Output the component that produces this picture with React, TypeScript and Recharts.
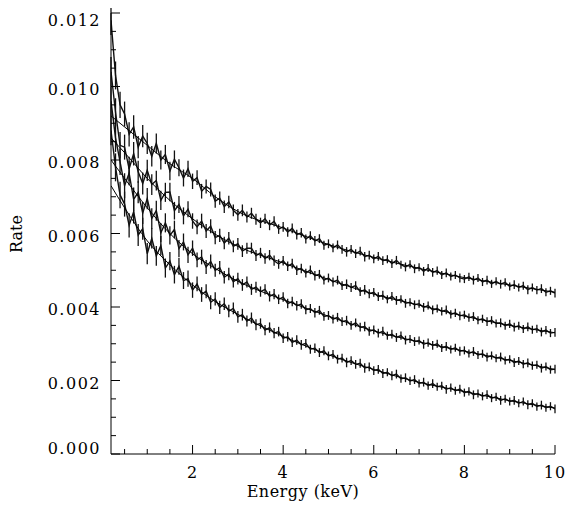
import { ComposedChart, Line, XAxis, YAxis, ErrorBar, Label } from "recharts";

const FONT = "'DejaVu Serif', serif";

// energy bins (keV)
const energy = [
  0.2, 0.3, 0.4, 0.5, 0.6, 0.7, 0.8, 0.9, 1.0, 1.1,
  1.2, 1.3, 1.4, 1.5, 1.6, 1.7, 1.8, 1.9, 2.0, 2.1,
  2.2, 2.3, 2.4, 2.5, 2.6, 2.7, 2.8, 2.9, 3.0, 3.1,
  3.2, 3.3, 3.4, 3.5, 3.6, 3.7, 3.8, 3.9, 4.0, 4.1,
  4.2, 4.3, 4.4, 4.5, 4.6, 4.7, 4.8, 4.9, 5.0, 5.1,
  5.2, 5.3, 5.4, 5.5, 5.6, 5.7, 5.8, 5.9, 6.0, 6.1,
  6.2, 6.3, 6.4, 6.5, 6.6, 6.7, 6.8, 6.9, 7.0, 7.1,
  7.2, 7.3, 7.4, 7.5, 7.6, 7.7, 7.8, 7.9, 8.0, 8.1,
  8.2, 8.3, 8.4, 8.5, 8.6, 8.7, 8.8, 8.9, 9.0, 9.1,
  9.2, 9.3, 9.4, 9.5, 9.6, 9.7, 9.8, 9.9, 10.0,
];

// measured rates, four spectra from top to bottom
const rateA = [
  0.0118, 0.0103, 0.0095, 0.00925, 0.0087, 0.0089, 0.00835, 0.00865, 0.00845, 0.0081,
  0.00845, 0.008, 0.00815, 0.0077, 0.00802, 0.00779, 0.00751, 0.00776, 0.00742, 0.00752,
  0.00715, 0.00728, 0.0072, 0.00688, 0.00696, 0.00673, 0.00686, 0.00663, 0.00651, 0.00663,
  0.00645, 0.00655, 0.00639, 0.00629, 0.0064, 0.00623, 0.00633, 0.00612, 0.00618, 0.00604,
  0.00614, 0.00597, 0.00602, 0.00585, 0.00594, 0.0058, 0.00586, 0.00568, 0.00572, 0.00561,
  0.00569, 0.00557, 0.0055, 0.00557, 0.00545, 0.00552, 0.00537, 0.00541, 0.00531, 0.00538,
  0.00526, 0.0053, 0.00518, 0.00527, 0.00515, 0.00509, 0.00516, 0.00504, 0.00508, 0.00497,
  0.00506, 0.00494, 0.00499, 0.00487, 0.00493, 0.00483, 0.00487, 0.00479, 0.00476, 0.00482,
  0.00473, 0.00479, 0.00468, 0.00473, 0.00463, 0.0047, 0.00462, 0.00467, 0.00456, 0.00461,
  0.00453, 0.00458, 0.00447, 0.00453, 0.00446, 0.0045, 0.0044, 0.00444, 0.00438,
];
const rateB = [
  0.0104, 0.0093, 0.0084, 0.00835, 0.00776, 0.00817, 0.00768, 0.00736, 0.00772, 0.00733,
  0.00744, 0.0069, 0.00712, 0.00713, 0.00662, 0.00679, 0.00648, 0.00666, 0.00634, 0.00618,
  0.00634, 0.00607, 0.0062, 0.00589, 0.00595, 0.00574, 0.00587, 0.00565, 0.00572, 0.00552,
  0.0056, 0.0056, 0.0054, 0.00547, 0.00532, 0.00541, 0.00526, 0.00517, 0.00526, 0.00511,
  0.00518, 0.005, 0.00505, 0.00492, 0.00501, 0.00485, 0.00489, 0.00473, 0.00479, 0.00468,
  0.00473, 0.00458, 0.00462, 0.00453, 0.00458, 0.00442, 0.00447, 0.00436, 0.0044, 0.00428,
  0.00432, 0.00421, 0.00429, 0.00418, 0.00421, 0.0041, 0.00413, 0.00406, 0.00409, 0.00399,
  0.00404, 0.00392, 0.00396, 0.00388, 0.00392, 0.0038, 0.00384, 0.00376, 0.00379, 0.00371,
  0.00374, 0.00364, 0.00368, 0.0036, 0.00364, 0.00355, 0.00357, 0.00349, 0.00354, 0.00345,
  0.00349, 0.0034, 0.00346, 0.00338, 0.00341, 0.00332, 0.00337, 0.00329, 0.00331,
];
const rateC = [
  0.0096, 0.0086, 0.00795, 0.0073, 0.00764, 0.00693, 0.00712, 0.00656, 0.00695, 0.00641,
  0.00662, 0.00602, 0.00629, 0.00595, 0.00611, 0.00559, 0.00577, 0.00542, 0.0056, 0.00528,
  0.00536, 0.00509, 0.00524, 0.005, 0.00507, 0.00481, 0.0049, 0.00469, 0.00477, 0.0046,
  0.00468, 0.00448, 0.00454, 0.00442, 0.00448, 0.00429, 0.00435, 0.00421, 0.00427, 0.004095,
  0.00415, 0.004035, 0.00408, 0.003925, 0.00396, 0.003845, 0.00391, 0.003745, 0.00377, 0.00367,
  0.00372, 0.0036, 0.00363, 0.0035, 0.00357, 0.00345, 0.00347, 0.00334, 0.00338, 0.00329,
  0.00334, 0.00322, 0.00326, 0.00317, 0.00322, 0.0031, 0.00313, 0.00306, 0.00309, 0.002985,
  0.00303, 0.002955, 0.003, 0.002885, 0.00293, 0.002845, 0.00289, 0.002795, 0.00282, 0.002735,
  0.00279, 0.002695, 0.00273, 0.002635, 0.00268, 0.002605, 0.00264, 0.002545, 0.00258, 0.002485,
  0.00253, 0.002445, 0.00248, 0.002405, 0.00243, 0.002335, 0.00238, 0.002295, 0.00231,
];
const rateD = [
  0.0088, 0.0078, 0.00705, 0.0068, 0.00622, 0.00659, 0.00596, 0.00613, 0.00545, 0.00587,
  0.00539, 0.00567, 0.00506, 0.00525, 0.00488, 0.00511, 0.00472, 0.00477, 0.00446, 0.00463,
  0.00434, 0.00443, 0.00413, 0.00422, 0.00399, 0.00409, 0.00389, 0.00396, 0.00373, 0.00379,
  0.00362, 0.0037, 0.00352, 0.00355, 0.00337, 0.00344, 0.00329, 0.00333, 0.00315, 0.00319,
  0.00304, 0.0031, 0.00297, 0.00301, 0.00285, 0.00288, 0.00276, 0.00281, 0.00267, 0.00271,
  0.00258, 0.00261, 0.00249, 0.00254, 0.00244, 0.00247, 0.00234, 0.00237, 0.00227, 0.002305,
  0.00219, 0.002225, 0.00213, 0.002175, 0.00205, 0.002075, 0.00199, 0.002025, 0.00192, 0.001955,
  0.00186, 0.001915, 0.00183, 0.001855, 0.00176, 0.001805, 0.00172, 0.001765, 0.00167, 0.001705,
  0.00161, 0.001645, 0.00157, 0.001615, 0.00152, 0.001555, 0.00146, 0.001505, 0.00143, 0.00146,
  0.00138, 0.00143, 0.00134, 0.00138, 0.00129, 0.00133, 0.00126, 0.0013, 0.00123,
];
// 1-sigma errors per bin
const rateErr = [
  0.0004, 0.00038, 0.00036, 0.00034, 0.00033, 0.00032, 0.0003, 0.0003, 0.00029, 0.00028,
  0.00027, 0.00026, 0.00026, 0.00025, 0.00024, 0.00023, 0.00023, 0.00022, 0.00021, 0.0002,
  0.0002, 0.00019, 0.00019, 0.00018, 0.00018, 0.00017, 0.00017, 0.00016, 0.00016, 0.00016,
  0.00015, 0.00015, 0.00015, 0.00014, 0.00014, 0.00014, 0.00014, 0.00013, 0.00013, 0.00013,
  0.00013, 0.00013, 0.00013, 0.00012, 0.00012, 0.00013, 0.00012, 0.00012, 0.00012, 0.00012,
  0.00012, 0.00012, 0.00013, 0.00012, 0.00012, 0.00012, 0.00013, 0.00012, 0.00012, 0.00012,
  0.00012, 0.00011, 0.00012, 0.00012, 0.00011, 0.00012, 0.00011, 0.00012, 0.00011, 0.00012,
  0.00011, 0.00012, 0.00011, 0.00011, 0.00012, 0.00011, 0.00011, 0.00012, 0.00011, 0.00011,
  0.00012, 0.00011, 0.00011, 0.00012, 0.00011, 0.00011, 0.00012, 0.00011, 0.00011, 0.00012,
  0.00011, 0.00011, 0.00012, 0.00011, 0.00011, 0.00012, 0.00011, 0.00011, 0.00012,
];

// fitted model curves
const modelEnergy = [0.2, 0.5, 1, 1.5, 2, 2.5, 3, 4, 5, 6, 7, 8, 9, 10];
const modelA = [0.0092, 0.0089, 0.0084, 0.0079, 0.0075, 0.007, 0.0066, 0.00615, 0.0057, 0.00535, 0.00505, 0.0048, 0.0046, 0.0044];
const modelB = [0.0086, 0.0082, 0.0075, 0.0069, 0.0064, 0.00598, 0.00565, 0.0052, 0.00475, 0.00435, 0.00405, 0.00375, 0.0035, 0.0033];
const modelC = [0.008, 0.0075, 0.0067, 0.006, 0.00545, 0.00505, 0.0047, 0.0042, 0.00375, 0.00335, 0.00305, 0.0028, 0.00255, 0.0023];
const modelD = [0.0073, 0.0067, 0.0058, 0.00515, 0.0046, 0.00415, 0.0038, 0.0032, 0.0027, 0.0023, 0.00195, 0.0017, 0.00145, 0.00125];

const xTicks = [0.5, 1, 1.5, 2, 2.5, 3, 3.5, 4, 4.5, 5, 5.5, 6, 6.5, 7, 7.5, 8, 8.5, 9, 9.5, 10];
const yTicks = [
  0, 0.0005, 0.001, 0.0015, 0.002, 0.0025, 0.003, 0.0035, 0.004, 0.0045, 0.005, 0.0055,
  0.006, 0.0065, 0.007, 0.0075, 0.008, 0.0085, 0.009, 0.0095, 0.01, 0.0105, 0.011, 0.0115, 0.012,
];

const rows = energy.map((e, i) => ({
  e,
  a: rateA[i],
  b: rateB[i],
  c: rateC[i],
  d: rateD[i],
  err: rateErr[i],
}));
const modelRows = modelEnergy.map((e, i) => ({
  e,
  a: modelA[i],
  b: modelB[i],
  c: modelC[i],
  d: modelD[i],
}));

const isMajorX = (v: number) => Math.round(v * 2) % 4 === 0;
const isMajorY = (v: number) => Math.round(v / 0.0005) % 4 === 0;

const BottomTick = (props: any) => {
  const { x, y, payload } = props;
  const major = isMajorX(payload.value);
  return (
    <g>
      <line x1={x} x2={x} y1={y} y2={y - (major ? 9 : 5)} stroke="#000" />
      {major && (
        <text x={x} y={y + 24} textAnchor="middle" fontFamily={FONT} fontSize={16} letterSpacing={1} fill="#000">
          {payload.value}
        </text>
      )}
    </g>
  );
};

const TopTick = (props: any) => {
  const { x, y, payload } = props;
  const major = isMajorX(payload.value);
  return <line x1={x} x2={x} y1={y} y2={y + (major ? 9 : 5)} stroke="#000" />;
};

const LeftTick = (props: any) => {
  const { x, y, payload } = props;
  const v = payload.value;
  const major = isMajorY(v);
  let shift = 8;
  if (v === 0) shift = 0;
  if (v === 0.012) shift = 13;
  return (
    <g>
      <line x1={x} x2={x + (major ? 9 : 5)} y1={y} y2={y} stroke="#000" />
      {major && (
        <text x={x - 10} y={y + shift} textAnchor="end" fontFamily={FONT} fontSize={16} letterSpacing={1.5} fill="#000">
          {v.toFixed(3)}
        </text>
      )}
    </g>
  );
};

const RightTick = (props: any) => {
  const { x, y, payload } = props;
  const major = isMajorY(payload.value);
  return <line x1={x} x2={x - (major ? 9 : 5)} y1={y} y2={y} stroke="#000" />;
};

export default function App() {
  return (
    <ComposedChart width={572} height={505} data={rows} margin={{ top: 5, right: 25, bottom: 0, left: 0 }}>
      <XAxis
        xAxisId="bottom"
        dataKey="e"
        type="number"
        domain={[0.2, 10]}
        allowDataOverflow
        ticks={xTicks}
        interval={0}
        tickSize={0}
        tickMargin={0}
        tickLine={false}
        tick={<BottomTick />}
        axisLine={{ stroke: "#000" }}
        height={59}
      >
        <Label
          content={() => (
            <text x={295} y={489} textAnchor="middle" fontFamily={FONT} fontSize={16} letterSpacing={0.5} fill="#000">
              Energy (keV)
            </text>
          )}
        />
      </XAxis>
      <XAxis
        xAxisId="top"
        orientation="top"
        dataKey="e"
        type="number"
        domain={[0.2, 10]}
        allowDataOverflow
        ticks={xTicks}
        interval={0}
        tickSize={0}
        tickMargin={0}
        tickLine={false}
        tick={<TopTick />}
        axisLine={{ stroke: "#000" }}
        height={0}
      >
        <Label
          content={() => (
            <text x={519} y={77} textAnchor="end" fontFamily={FONT} fontSize={16} fill="#000">
              MOS1 Medium
            </text>
          )}
        />
      </XAxis>
      <YAxis
        yAxisId="left"
        type="number"
        domain={[0, 0.012]}
        allowDataOverflow
        ticks={yTicks}
        interval={0}
        tickSize={0}
        tickMargin={0}
        tickLine={false}
        tick={<LeftTick />}
        axisLine={{ stroke: "#000" }}
        width={103}
      >
        <Label
          content={() => (
            <text
              x={14}
              y={226}
              textAnchor="middle"
              fontFamily={FONT}
              fontSize={16}
              fill="#000"
              transform="rotate(-90 14 226)"
            >
              Rate
            </text>
          )}
        />
      </YAxis>
      <YAxis
        yAxisId="right"
        orientation="right"
        type="number"
        domain={[0, 0.012]}
        allowDataOverflow
        ticks={yTicks}
        interval={0}
        tickSize={0}
        tickMargin={0}
        tickLine={false}
        tick={<RightTick />}
        axisLine={{ stroke: "#000" }}
        width={0}
      />

      {(["a", "b", "c", "d"] as const).map((k) => (
        <Line
          key={"data-" + k}
          xAxisId="bottom"
          yAxisId="left"
          dataKey={k}
          type="linear"
          stroke="#111"
          strokeWidth={1.4}
          dot={false}
          isAnimationActive={false}
        >
          <ErrorBar dataKey="err" width={0} stroke="#111" strokeWidth={1.3} direction="y" isAnimationActive={false} />
        </Line>
      ))}
      {(["a", "b", "c", "d"] as const).map((k) => (
        <Line
          key={"model-" + k}
          xAxisId="bottom"
          yAxisId="left"
          data={modelRows}
          dataKey={k}
          type="monotone"
          stroke="#000"
          strokeWidth={1}
          dot={false}
          isAnimationActive={false}
        />
      ))}
    </ComposedChart>
  );
}
